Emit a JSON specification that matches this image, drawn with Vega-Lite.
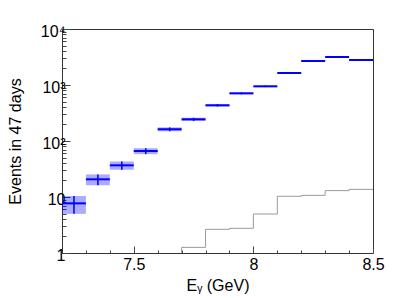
{
  "$schema": "https://vega.github.io/schema/vega-lite/v6.json",
  "width": 311,
  "height": 224,
  "autosize": {"type": "none"},
  "padding": {"left": 62, "top": 29, "right": 42, "bottom": 45},
  "background": "white",
  "config": {
    "view": {"stroke": "#333", "strokeWidth": 1},
    "font": "Liberation Sans, DejaVu Sans, sans-serif",
    "axis": {
      "domain": false,
      "grid": false,
      "labelFont": "Liberation Sans, DejaVu Sans, sans-serif",
      "titleFont": "Liberation Sans, DejaVu Sans, sans-serif",
      "labelColor": "#000",
      "titleColor": "#000",
      "labelFontSize": 16,
      "titleFontSize": 16,
      "titleFontWeight": "normal",
      "tickColor": "#444",
      "labelOverlap": false
    }
  },
  "datasets": {
    "sig": [
      {"E": 7.25, "E1": 7.2, "E2": 7.3, "N": 7.7, "lo": 5.0, "hi": 10.4},
      {"E": 7.35, "E1": 7.3, "E2": 7.4, "N": 20.7, "lo": 16.2, "hi": 25.3},
      {"E": 7.45, "E1": 7.4, "E2": 7.5, "N": 36.8, "lo": 30.7, "hi": 42.9},
      {"E": 7.55, "E1": 7.5, "E2": 7.6, "N": 66.3, "lo": 58.2, "hi": 74.4},
      {"E": 7.65, "E1": 7.6, "E2": 7.7, "N": 162, "lo": 149, "hi": 175},
      {"E": 7.75, "E1": 7.7, "E2": 7.8, "N": 244, "lo": 228, "hi": 260},
      {"E": 7.85, "E1": 7.8, "E2": 7.9, "N": 434, "lo": 413, "hi": 455},
      {"E": 7.95, "E1": 7.9, "E2": 8.0, "N": 710, "lo": 683, "hi": 737},
      {"E": 8.05, "E1": 8.0, "E2": 8.1, "N": 947, "lo": 916, "hi": 978},
      {"E": 8.15, "E1": 8.1, "E2": 8.2, "N": 1638, "lo": 1598, "hi": 1679},
      {"E": 8.25, "E1": 8.2, "E2": 8.3, "N": 2683, "lo": 2631, "hi": 2735},
      {"E": 8.35, "E1": 8.3, "E2": 8.4, "N": 3162, "lo": 3106, "hi": 3218},
      {"E": 8.45, "E1": 8.4, "E2": 8.5, "N": 2795, "lo": 2742, "hi": 2848}
    ],
    "bkg": [
      {"E": 7.7, "B": 1},
      {"E": 7.7, "B": 1.26},
      {"E": 7.8, "B": 2.65},
      {"E": 7.9, "B": 2.76},
      {"E": 8.0, "B": 4.97},
      {"E": 8.1, "B": 10.3},
      {"E": 8.2, "B": 10.7},
      {"E": 8.3, "B": 13.0},
      {"E": 8.4, "B": 13.7},
      {"E": 8.5, "B": 13.7}
    ]
  },
  "layer": [
    {
      "data": {"name": "bkg"},
      "mark": {"type": "line", "interpolate": "step-after", "color": "#9a9a9a", "strokeWidth": 1, "clip": true},
      "encoding": {
        "x": {
          "field": "E", "type": "quantitative",
          "scale": {"domain": [7.2, 8.5], "nice": false, "zero": false},
          "axis": {
            "title": "Eᵧ (GeV)",
            "values": [7.2, 7.3, 7.4, 7.5, 7.6, 7.7, 7.8, 7.9, 8, 8.1, 8.2, 8.3, 8.4, 8.5],
            "tickCount": 100,
            "labelExpr": "abs(datum.value - 7.5) < 0.01 ? '7.5' : abs(datum.value - 8) < 0.01 ? '8' : abs(datum.value - 8.5) < 0.01 ? '8.5' : ''",
            "tickSize": {"condition": {"test": "abs(datum.value - 7.5) < 0.01 || abs(datum.value - 8) < 0.01 || abs(datum.value - 8.5) < 0.01", "value": -7}, "value": -3},
            "labelPadding": 10,
            "labelOverlap": false,
            "labelFlush": false,
            "labelBound": false,
            "titleBaseline": "alphabetic",
            "titleY": 37
          }
        },
        "y": {
          "field": "B", "type": "quantitative",
          "scale": {"type": "log", "domain": [1, 10000], "nice": false},
          "axis": {
            "title": "Events in 47 days",
            "values": [1, 2, 3, 4, 5, 6, 7, 8, 9, 10, 20, 30, 40, 50, 60, 70, 80, 90, 100, 200, 300, 400, 500, 600, 700, 800, 900, 1000, 2000, 3000, 4000, 5000, 6000, 7000, 8000, 9000, 10000],
            "tickCount": 100,
            "labelExpr": "datum.value == 1 ? '1' : datum.value == 10 ? '10' : datum.value == 100 ? '10²' : datum.value == 1000 ? '10³' : datum.value == 10000 ? '10⁴' : ''",
            "tickSize": {"condition": {"test": "datum.value == 1 || datum.value == 10 || datum.value == 100 || datum.value == 1000 || datum.value == 10000", "value": -8}, "value": -4},
            "labelPadding": 5,
            "labelOffset": 2,
            "labelOverlap": false,
            "labelFlush": false,
            "titleAngle": -90,
            "titleBaseline": "alphabetic",
            "titleAlign": "center",
            "titleX": -42,
            "titleY": 112
          }
        }
      }
    },
    {
      "data": {"name": "sig"},
      "mark": {"type": "rect", "color": "#0000ff", "opacity": 0.33},
      "encoding": {
        "x": {"field": "E1", "type": "quantitative"},
        "x2": {"field": "E2"},
        "y": {"field": "lo", "type": "quantitative"},
        "y2": {"field": "hi"}
      }
    },
    {
      "data": {"name": "sig"},
      "mark": {"type": "rule", "color": "#0000dd", "strokeWidth": 1.5},
      "encoding": {
        "x": {"field": "E", "type": "quantitative"},
        "y": {"field": "lo", "type": "quantitative"},
        "y2": {"field": "hi"}
      }
    },
    {
      "data": {"name": "sig"},
      "mark": {"type": "rule", "color": "#0000ff", "strokeWidth": 2},
      "encoding": {
        "x": {"field": "E1", "type": "quantitative"},
        "x2": {"field": "E2"},
        "y": {"field": "N", "type": "quantitative"}
      }
    }
  ]
}
